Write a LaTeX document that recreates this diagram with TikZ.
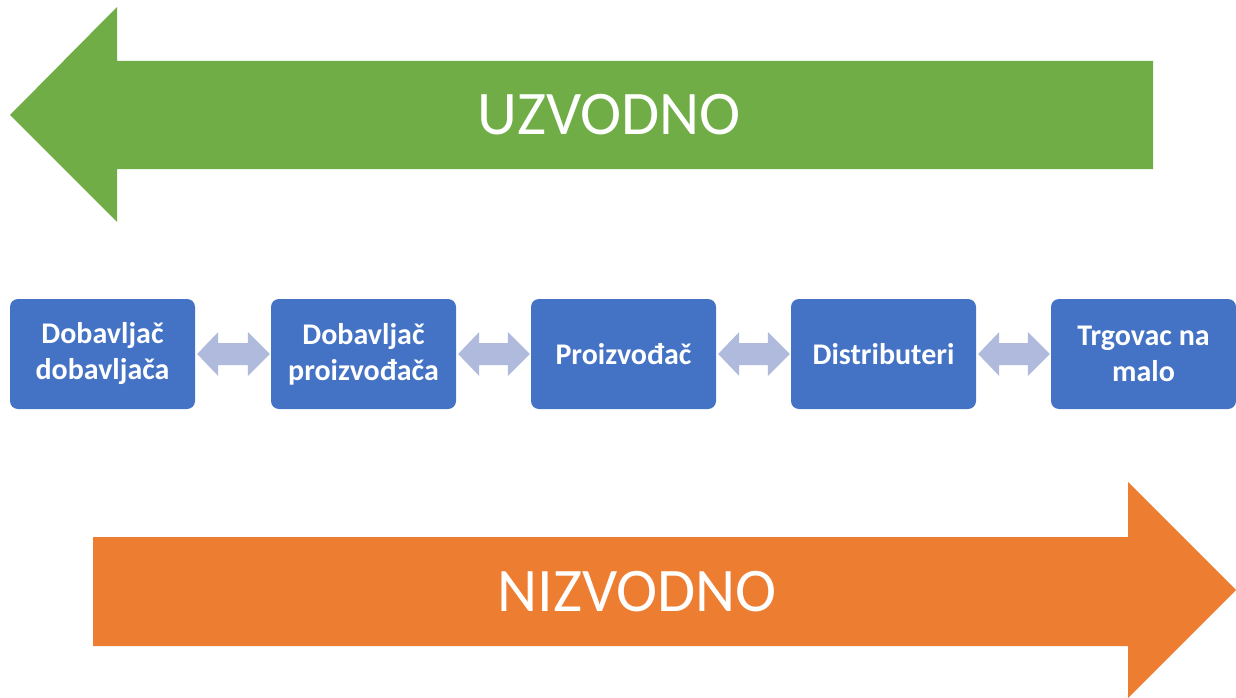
\documentclass[tikz,border=0pt]{standalone}
\usepackage{fontspec}
\setmainfont{Carlito}
\usetikzlibrary{calc}
\definecolor{cgreen}{HTML}{70AD47}
\definecolor{corange}{HTML}{ED7D31}
\definecolor{cblue}{HTML}{4472C4}
\definecolor{clink}{HTML}{AFBADC}
\tikzset{
  stagebox/.style={fill=cblue, rounded corners=8pt, minimum width=185pt, minimum height=110pt,
    inner sep=0pt, text=white, align=center, font=\fontsize{30}{36}\selectfont\bfseries},
  bigtext/.style={text=white, font=\fontsize{62}{68}\selectfont, inner sep=0pt},
  linkarrow/.style={fill=clink}
}
\newcommand{\dblarrow}[2]{%
  \fill[linkarrow] ($(#1.east)+(2,0)$) coordinate (A) -- ($(A)+(21,-22)$) -- ($(A)+(21,-11)$)
    -- ($(#2.west)+(-23,-11)$) coordinate (B) -- ($(B)+(0,-11)$) -- ($(#2.west)+(-1,0)$)
    -- ($(B)+(0,33)$) -- ($(B)+(0,22)$) -- ($(A)+(21,11)$) -- ($(A)+(21,22)$) -- cycle;}
\begin{document}
\begin{tikzpicture}[x=1pt,y=-1pt]
\useasboundingbox (0,0) rectangle (1236,698);
% upstream arrow
\fill[cgreen] (10,115) -- (117,7) -- (117,61) -- (1153,61) -- (1153,169) -- (117,169) -- (117,222) -- cycle;
\node[bigtext] (up) at (609,115) {UZVODNO};
% downstream arrow
\fill[corange] (1236,590) -- (1128,482) -- (1128,537) -- (93,537) -- (93,646) -- (1128,646) -- (1128,698) -- cycle;
\node[bigtext] (down) at (637,592) {NIZVODNO};
% stages
\node[stagebox] (b1) at (102.5,354) {Dobavljač\\dobavljača};
\node[stagebox] (b2) at (363.5,354) {Dobavljač\\proizvođača};
\node[stagebox] (b3) at (623.5,354) {Proizvođač};
\node[stagebox] (b4) at (883.5,354) {Distributeri};
\node[stagebox] (b5) at (1143.5,354) {Trgovac na\\malo};
\dblarrow{b1}{b2}
\dblarrow{b2}{b3}
\dblarrow{b3}{b4}
\dblarrow{b4}{b5}
\end{tikzpicture}
\end{document}
